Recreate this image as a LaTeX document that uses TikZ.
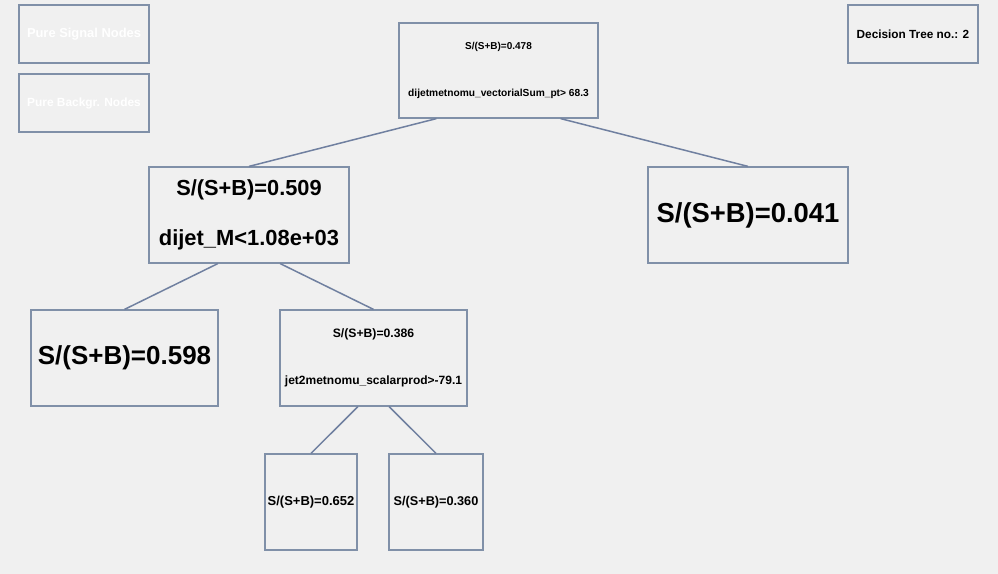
\documentclass[tikz,border=0pt]{standalone}
\usepackage{fontspec}
\setmainfont{Liberation Sans}
\usetikzlibrary{calc}
\definecolor{bgcol}{HTML}{F0F0F0}
\definecolor{edgecol}{HTML}{8090A8}
\definecolor{linkcol}{HTML}{7080A0}
\newcommand{\tsize}[1]{\fontsize{#1bp}{#1bp}\selectfont\bfseries}

\begin{document}
\begin{tikzpicture}[x=1bp,y=-1bp,
  box/.style={draw=edgecol, line width=1.2bp, inner sep=0pt},
  lbl/.style={inner sep=0pt, text=black},
  link/.style={draw=linkcol, line width=1.5bp}]
\fill[bgcol] (0,0) rectangle (998,574);
\useasboundingbox (0,0) rectangle (998,574);

% legend boxes
\node[box, minimum width=130bp, minimum height=58bp, text=white] (legS) at (84,34) {\tsize{12.9}Pure Signal Nodes};
\node[box, minimum width=130bp, minimum height=58bp, text=white] (legB) at (84,103) {\tsize{11.9}Pure Backgr. Nodes};
\node[box, minimum width=130bp, minimum height=58bp] (treeno) at (913,34) {\tsize{11.8}Decision Tree no.: 2};

% tree nodes
\node[box, minimum width=199bp, minimum height=95bp] (root) at (498.5,70.5) {};
\node[lbl] (rootA) at ($(root.center)+(0,-23.5)$) {\tsize{10}S/(S+B)=0.478};
\node[lbl] (rootB) at ($(root.center)+(0,23.5)$) {\tsize{10.2}dijetmetnomu\_vectorialSum\_pt> 68.3};

\node[box, minimum width=200bp, minimum height=96bp] (left) at (249,215) {};
\node[lbl] (leftA) at ($(left.center)+(0,-25)$) {\tsize{21.8}S/(S+B)=0.509};
\node[lbl] (leftB) at ($(left.center)+(0,25)$) {\tsize{21.9}dijet\_M<1.08e+03};

\node[box, minimum width=200bp, minimum height=96bp] (rleaf) at (748,215) {\tsize{27.4}S/(S+B)=0.041};

\node[box, minimum width=187bp, minimum height=96bp] (leafA) at (124.5,358) {\tsize{26}S/(S+B)=0.598};

\node[box, minimum width=187bp, minimum height=96bp] (mid) at (373.5,358) {};
\node[lbl] (midA) at ($(mid.center)+(0,-24)$) {\tsize{12.2}S/(S+B)=0.386};
\node[lbl] (midB) at ($(mid.center)+(0,23)$) {\tsize{12}jet2metnomu\_scalarprod>-79.1};

\node[box, minimum width=92bp, minimum height=96bp] (leafB) at (311,502) {\tsize{13}S/(S+B)=0.652};
\node[box, minimum width=94bp, minimum height=96bp] (leafC) at (436,502) {\tsize{12.7}S/(S+B)=0.360};

% connectors
\draw[link] ($(root.south west)!0.19!(root.south east)$) -- (left.north);
\draw[link] ($(root.south west)!0.81!(root.south east)$) -- (rleaf.north);
\draw[link] ($(left.south west)!0.345!(left.south east)$) -- (leafA.north);
\draw[link] ($(left.south west)!0.655!(left.south east)$) -- (mid.north);
\draw[link] ($(mid.south west)!0.417!(mid.south east)$) -- (leafB.north);
\draw[link] ($(mid.south west)!0.583!(mid.south east)$) -- (leafC.north);
\end{tikzpicture}
\end{document}
